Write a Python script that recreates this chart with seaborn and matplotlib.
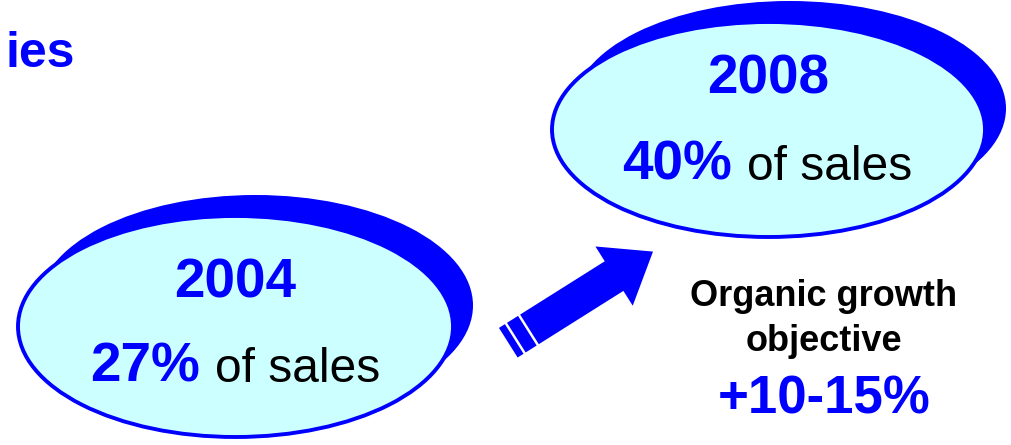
import numpy as np
import matplotlib
matplotlib.use("Agg")
import matplotlib.pyplot as plt
from matplotlib.patches import Ellipse, Polygon
import seaborn as sns

# ---- data / text content ----
years = ["2004", "2008"]
shares = [27, 40]
share_suffix = "of sales"
objective_lines = ["Organic growth", "objective"]
growth_range = [10, 15]
title_fragment = "ies"

# ---- style ----
sns.set_theme(style="white")
plt.rcParams["font.family"] = ["Liberation Sans", "DejaVu Sans"]
BLUE = "#0000FF"
FILL = "#CCFFFF"

fig = plt.figure(figsize=(10.12, 4.45), dpi=100)
ax = fig.add_axes([0, 0, 1, 1])
ax.set_xlim(0, 1012)
ax.set_ylim(445, 0)
ax.axis("off")

# layout for the two bubbles (center x, center y, width, height)
bubbles = [
    dict(cx=235.5, cy=326.5, w=435, h=221, dx=20, dy=-21,
         year_y=298, share_y=382, split_x=200),
    dict(cx=768.5, cy=129.5, w=433, h=215, dx=21, dy=-21,
         year_y=93, share_y=180, split_x=732),
]

for yr, sh, b in zip(years, shares, bubbles):
    back = Ellipse((b["cx"] + b["dx"], b["cy"] + b["dy"]), b["w"], b["h"],
                   facecolor=BLUE, edgecolor=BLUE, lw=0, zorder=1)
    ax.add_patch(back)
    front = Ellipse((b["cx"], b["cy"]), b["w"], b["h"],
                    facecolor=FILL, edgecolor=BLUE, lw=2.8, zorder=2)
    ax.add_patch(front)
    ax.text(b["cx"], b["year_y"], yr, color=BLUE, fontsize=39.5,
            fontweight="bold", ha="center", va="baseline", zorder=3)
    ax.text(b["split_x"], b["share_y"], f"{sh}%", color=BLUE, fontsize=39.5,
            fontweight="bold", ha="right", va="baseline", zorder=3)
    ax.text(b["split_x"] + 15, b["share_y"], share_suffix, color="black",
            fontsize=34.5, ha="left", va="baseline", zorder=3)

# ---- arrow (built in local coordinates, then rotated) ----
ang = np.deg2rad(32.2)
origin = np.array([508.3, 342.7])
u = np.array([np.cos(ang), -np.sin(ang)])
v = np.array([np.sin(ang), np.cos(ang)])
hw = 17.5

def to_xy(pts):
    return [origin + t * u + s * v for t, s in pts]

segments = [(0, 7), (9.5, 22.5)]
for t0, t1 in segments:
    ax.add_patch(Polygon(to_xy([(t0, -hw), (t1, -hw), (t1, hw), (t0, hw)]),
                         closed=True, facecolor=BLUE, edgecolor="none", zorder=2))
shaft_head = [(25, -hw), (125, -hw), (125, -35), (171, 0), (125, 35),
              (125, hw), (25, hw)]
ax.add_patch(Polygon(to_xy(shaft_head), closed=True, facecolor=BLUE,
                     edgecolor="none", zorder=2))

# ---- objective text ----
ax.text(824, 306, objective_lines[0], color="black", fontsize=26,
        fontweight="bold", ha="center", va="baseline")
ax.text(824, 351, objective_lines[1], color="black", fontsize=26,
        fontweight="bold", ha="center", va="baseline")
ax.text(824, 414, f"+{growth_range[0]}-{growth_range[1]}%", color=BLUE,
        fontsize=38, fontweight="bold", ha="center", va="baseline")

# ---- title fragment (cut-off slide title) ----
ax.text(75, 67, title_fragment, color=BLUE, fontsize=36, fontweight="bold",
        ha="right", va="baseline")

fig.savefig("out.png", dpi=100, facecolor="white")
